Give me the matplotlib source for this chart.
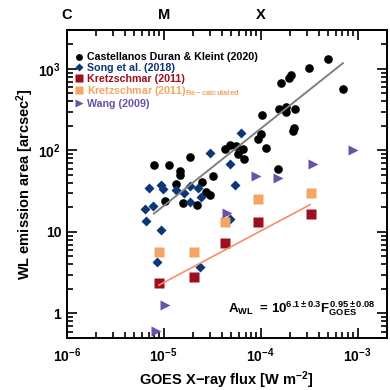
import matplotlib
matplotlib.use('Agg')
import matplotlib.pyplot as plt

plt.rcParams['font.family'] = ['Liberation Sans', 'DejaVu Sans']
plt.rcParams['font.weight'] = 'bold'
plt.rcParams['mathtext.fontset'] = 'custom'
plt.rcParams['mathtext.rm'] = 'Liberation Sans:bold'
plt.rcParams['mathtext.it'] = 'Liberation Sans:bold'
plt.rcParams['mathtext.bf'] = 'Liberation Sans:bold'
plt.rcParams['axes.linewidth'] = 1.4

# Castellanos Duran & Kleint (2020)
cdk_flux = [8.03e-6, 1.14e-5, 1.46e-5, 1.46e-5, 1.86e-5, 1.33e-5, 1.03e-5, 1.57e-5, 2.21e-5,
            2.48e-5, 2.76e-5, 2.99e-5, 3.22e-5, 4.27e-5, 4.81e-5, 5.61e-5, 6.57e-5, 5.83e-5,
            6.69e-5, 9.31e-5, 1.01e-4, 1.14e-4, 1.04e-4, 1.54e-4, 1.85e-4, 1.85e-4, 2.24e-4,
            2.14e-4, 2.23e-4, 1.53e-4, 1.62e-4, 1.96e-4, 2.08e-4, 3.16e-4, 4.98e-4, 7.06e-4]
cdk_area = [66.3, 66.8, 56.4, 50.4, 83.0, 38.6, 23.9, 22.9, 21.6,
            40.6, 30.6, 28.7, 48.6, 103.4, 116.4, 112.6, 104.9, 89.8,
            78.0, 139, 158, 107, 271, 319, 340, 294, 319,
            172, 187, 59.7, 674, 765, 845, 1020, 1307, 566]

# Song et al. (2018)
song_flux = [7.13e-6, 9.47e-6, 9.84e-6, 1.34e-5, 1.64e-5, 1.86e-5, 2.26e-5, 1.86e-5, 7.71e-6, 6.46e-6,
             6.58e-6, 9.36e-6, 8.58e-6, 2.37e-5, 2.45e-5, 2.99e-5, 4.87e-5, 5.39e-5, 6.28e-5, 4.87e-5]
song_area = [34.9, 37.3, 34.0, 32.6, 30.1, 37.0, 34.7, 23.4, 20.6, 19.2,
             13.8, 10.5, 4.26, 3.72, 26.5, 93.7, 68.4, 38.0, 163, 14.3]

# Kretzschmar (2011) and re-calculated
kretz_flux = [9.0e-6, 2.06e-5, 4.32e-5, 9.35e-5, 3.30e-4]
kretz_area = [2.38, 2.82, 7.27, 13.3, 16.8]
kretz_re_area = [5.64, 5.71, 13.2, 25.3, 29.7]

# Wang (2009)
wang_flux = [8.28e-6, 1.03e-5, 4.53e-5, 8.99e-5, 1.51e-4, 3.46e-4, 9.04e-4]
wang_area = [0.609, 1.26, 17.0, 48.6, 45.9, 68.8, 100]

# fit lines (end points)
fit_flux = [7.95e-6, 7.06e-4]
fit_area = [16.8, 1175]
kfit_flux = [8.95e-6, 3.24e-4]
kfit_area = [2.23, 21.6]

c_blue = '#0c3675'
c_red = '#9c0f1c'
c_orange = '#f4a565'
c_purple = '#6a52a6'

fig = plt.figure(figsize=(3.9, 3.9), dpi=100)
ax = fig.add_axes([0.171, 0.1333, 0.8205, 0.7897])

ax.plot(cdk_flux, cdk_area, 'o', color='black', ms=6.2, mec='none', zorder=3,
        label='Castellanos Duran & Kleint (2020)')
ax.plot(song_flux, song_area, 'D', color=c_blue, ms=5, mec='none', zorder=4,
        label='Song et al. (2018)')
ax.plot(kretz_flux, kretz_area, 's', color=c_red, ms=6.5, mec='none', zorder=4,
        label='Kretzschmar (2011)')
ax.plot(kretz_flux, kretz_re_area, 's', color=c_orange, ms=6.5, mec='none', zorder=4,
        label='Kretzschmar (2011)$_{\\mathregular{Re-calculated}}$')
ax.plot(wang_flux, wang_area, '>', color=c_purple, ms=6.5, mec='none', zorder=4,
        label='Wang (2009)')
ax.plot(fit_flux, fit_area, color='#7f7f7f', lw=1.4, zorder=5)
ax.plot(kfit_flux, kfit_area, color='#f98b6c', lw=1.2, zorder=5)

ax.set_xscale('log')
ax.set_yscale('log')
ax.set_xlim(1e-6, 2e-3)
ax.set_ylim(0.5, 3000)

ax.set_xticks([1e-6, 1e-5, 1e-4, 1e-3], ['$10^{-6}$', '$10^{-5}$', '$10^{-4}$', '$10^{-3}$'])
ax.set_yticks([1, 10, 100, 1000], ['1', '10', '$10^2$', '$10^3$'])
ax.tick_params(which='both', direction='in', right=True, labelsize=10, width=1.2)
ax.tick_params(axis='x', which='major', length=7, pad=6)
ax.tick_params(axis='y', which='major', length=7, pad=4)
ax.tick_params(which='minor', length=4)

top = ax.secondary_xaxis('top')
top.set_xticks([1e-6, 1e-5, 1e-4, 1e-3], ['C', 'M', 'X', ''])
top.tick_params(which='both', direction='in', labelsize=10.5, width=1.2, pad=6)
top.tick_params(which='major', length=7)
top.tick_params(which='minor', length=4)

ax.set_xlabel('GOES X\u2212ray flux [W m$^{-2}$]', fontsize=10.5, fontweight='bold', labelpad=3)
ax.set_ylabel('WL emission area [arcsec$^2$]', fontsize=10.5, fontweight='bold', labelpad=2)

leg = ax.legend(loc='upper left', frameon=False, fontsize=7.7, handlelength=0.7,
                handletextpad=0.4, labelspacing=0.05, borderaxespad=0.4,
                markerscale=0.8, bbox_to_anchor=(0.0, 0.955))
for txt, col in zip(leg.get_texts(), ['black', c_blue, c_red, c_orange, c_purple]):
    txt.set_color(col)

ax.text(0.965, 0.065, '$A_{WL}$  = $10^{6.1\\pm0.3}$$F^{0.95\\pm0.08}_{GOES}$',
        transform=ax.transAxes, ha='right', va='bottom', fontsize=9.5)

fig.savefig('out.png', dpi=100)
